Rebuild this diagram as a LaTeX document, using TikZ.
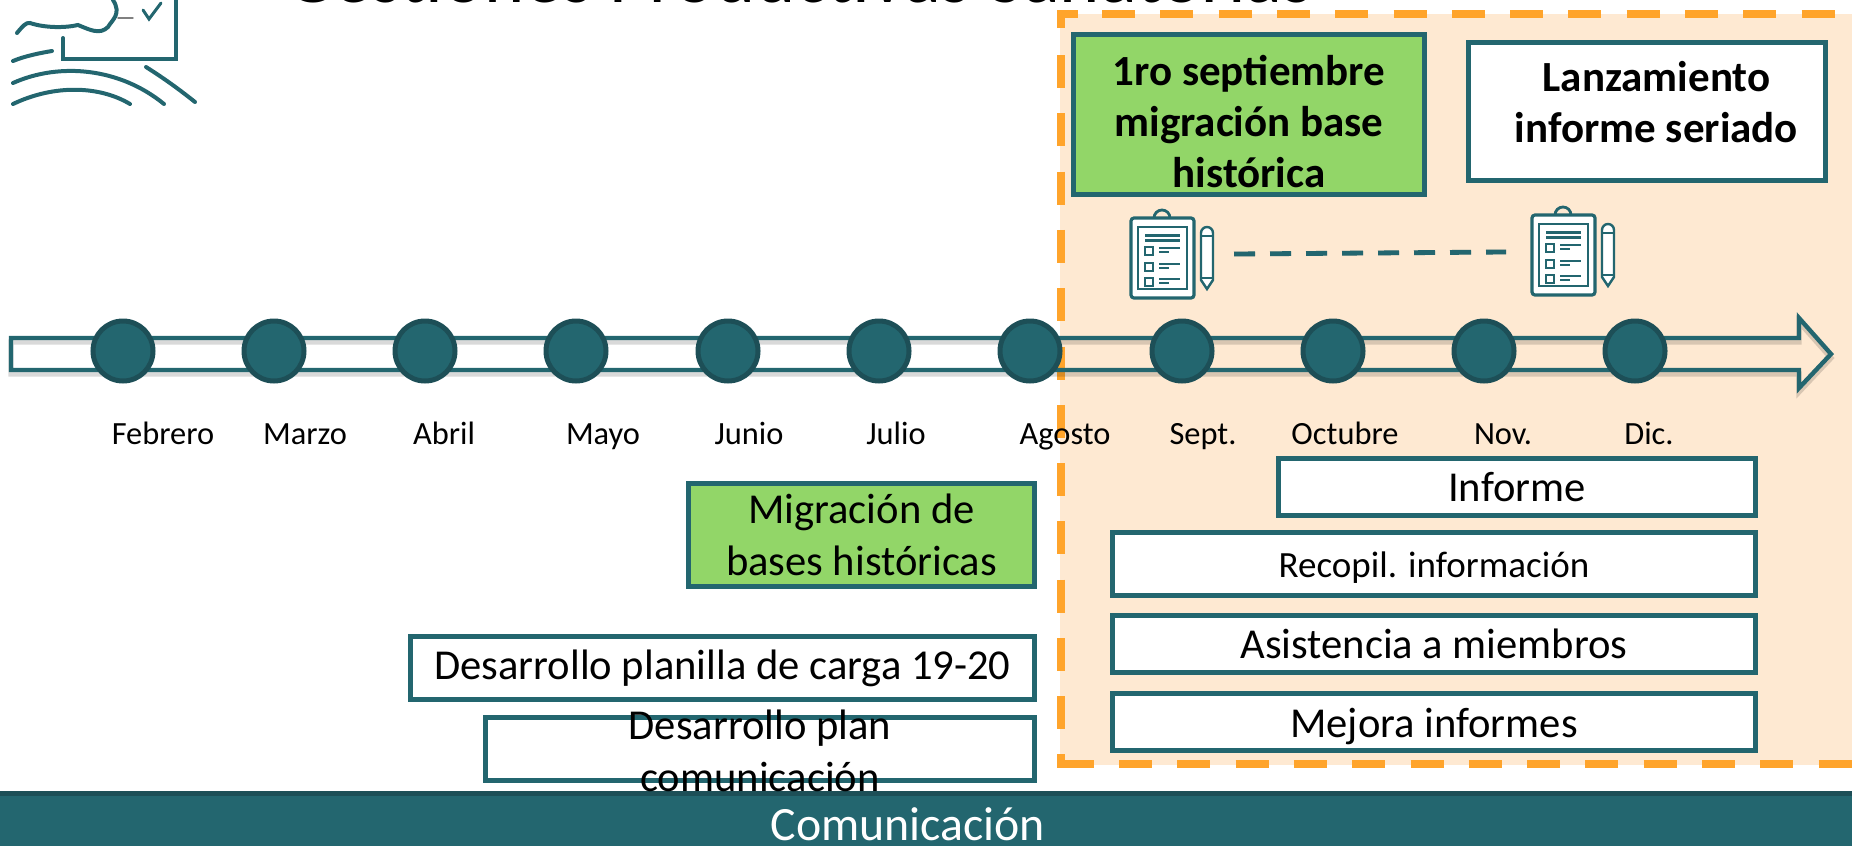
\documentclass[tikz,border=0pt]{standalone}
\usepackage{fontspec}
\setmainfont{Carlito}
\definecolor{teal1}{HTML}{23666F}
\definecolor{teal2}{HTML}{1D4F57}
\definecolor{peach}{HTML}{FEE9D2}
\definecolor{dashor}{HTML}{FFA42B}
\definecolor{greenb}{HTML}{92D668}
\tikzset{x=0.5pt,y=-0.5pt,
 stagebox/.style={draw=teal1,line width=2.4pt,fill=white,align=center,inner sep=0pt,text=black,anchor=north west},
 monthdot/.style={circle,draw=teal2,fill=teal1,line width=2.5pt,minimum size=30pt,inner sep=0pt},
 monthlabel/.style={font=\fontsize{16.2}{18}\selectfont,text=black,anchor=base,inner sep=0pt},
 boldtext/.style={font=\bfseries\fontsize{21.5}{25.5}\selectfont},
 plaintext/.style={font=\fontsize{21.3}{26}\selectfont},
 oranged/.style={dashor,line width=3.8pt},
 iconline/.style={draw=teal1,line width=1pt}}
\newcommand{\clipboardicon}[2]{%
 \begin{scope}[shift={(#1,#2)}]
  \draw[iconline,line width=1.4pt,fill=none] (23,0) arc[start angle=180,end angle=0,radius=4pt];
  \draw[iconline,line width=1.6pt,fill=white,rounded corners=1.5pt] (0,0) rectangle (63,80);
  \draw[iconline,line width=1.1pt,fill=white] (7,9) rectangle (56,71);
  \draw[iconline,line width=1.5pt] (14,17)--(49,17) (14,22)--(49,22);
  \foreach \y in {29,45,60}{\draw[iconline,line width=1pt] (14,\y) rectangle (22,\y+8);
    \draw[iconline,line width=1pt] (28,\y+1)--(49,\y+1) (28,\y+5)--(38,\y+5);}
  \draw[iconline,fill=white,line width=1.2pt] (70,15) -- (70,62) -- (76,71) -- (82,62) -- (82,15) arc[start angle=0,end angle=180,radius=3pt] -- cycle;
  \draw[iconline] (70,18)--(82,18) (70,60)--(82,60);
 \end{scope}}
\begin{document}
\begin{tikzpicture}
\useasboundingbox (0,0) rectangle (1852,846);
\clip (0,0) rectangle (1852,846);
% title
\node[anchor=base west,inner sep=0pt,font=\fontsize{38.3}{42}\selectfont,text=black] (title) at (285,3) {Gestiones Productivas Sanatorias};
% peach
\fill[peach] (1060,14) rectangle (1852,765);
\draw[oranged] (1061,28) -- (1061,14) -- (1078,14);
\draw[oranged,dash pattern=on 16.5pt off 12.65pt] (1102,14) -- (1852,14);
\draw[oranged,dash pattern=on 16.5pt off 12.65pt] (1061,55) -- (1061,730);
\draw[oranged] (1061,754) -- (1061,764) -- (1094,764);
\draw[oranged,dash pattern=on 16.5pt off 12.65pt] (1119,764) -- (1852,764);
% logo
\begin{scope}[line width=2pt,draw=teal1,line cap=round]
 \draw (17,33) .. controls (22,27) and (26,22) .. (30,23) .. controls (45,28) and (65,28) .. (78,25) .. controls (90,30) and (100,35) .. (108,27) .. controls (112,20) and (122,14) .. (113,0);
 \draw (63,38) -- (63,59) -- (176,59) -- (176,0);
 \draw (13,61) .. controls (25,56) and (40,53) .. (52,51);
 \draw (13,83) .. controls (60,62) and (120,68) .. (164,104);
 \draw (13,104) .. controls (55,84) and (100,86) .. (130,104);
 \draw (146,67) .. controls (165,79) and (180,90) .. (195,102);
 \draw[line width=1.5pt] (143,10) -- (149,19) -- (161,3);
 \draw[line width=.7pt,gray] (118,18)--(133,18);
\end{scope}
% arrow
\def\arrowpath{(11,338) -- (1799,338) -- (1799,318) -- (1831,354) -- (1799,388) -- (1799,370) -- (11,370) -- cycle}
\draw[black,opacity=.15,line width=2.6pt,yshift=-2pt] \arrowpath;
\draw[teal1,line width=2.2pt] \arrowpath;
% dots
\foreach \n/\x in {a/123,b/274,c/425,d/576,e/728,f/879,g/1030,h/1182,i/1333,j/1484,k/1635}{
 \node[monthdot] (dot\n) at (\x,351) {};}
% months
\foreach \n/\x/\t in {ma/163/Febrero,mb/305/Marzo,mc/444/Abril,md/603/Mayo,me/749/Junio,mf/896/Julio,mg/1065/Agosto,mh/1203/Sept.,mi/1345/Octubre,mj/1503/Nov.,mk/1649/Dic.}{
 \node[monthlabel] (\n) at (\x,444) {\t};}
% top boxes
\node[stagebox,fill=greenb,minimum width=175.6pt,minimum height=80pt,boldtext] (b1) at (1071,32) {\rule{0pt}{22pt}1ro septiembre\\migración base\\histórica};
\node[stagebox,minimum width=178.6pt,minimum height=69pt,boldtext] (b2) at (1466,40) {\hspace*{9.5pt}Lanzamiento\\\hspace*{9.5pt}informe seriado\\[-16.5pt]};
% lower boxes
\node[stagebox,minimum width=238.6pt,minimum height=28.6pt,plaintext] (b3) at (1276,456) {Informe};
\node[stagebox,minimum width=321.6pt,minimum height=31.6pt,font=\fontsize{18.5}{22}\selectfont] (b4) at (1110,530) {\rule{0pt}{16pt}Recopil. información};
\node[stagebox,minimum width=321.6pt,minimum height=28.6pt,plaintext] (b5) at (1110,613) {Asistencia a miembros};
\node[stagebox,minimum width=321.6pt,minimum height=28.6pt,plaintext] (b6) at (1110,691) {\rule{0pt}{19pt}Mejora informes};
\node[stagebox,fill=greenb,minimum width=173.1pt,minimum height=51.4pt,plaintext] (b7) at (686,481) {Migración de\\bases históricas};
\node[stagebox,minimum width=312.1pt,minimum height=31.6pt,plaintext] (b8) at (408,634) {Desarrollo planilla de carga 19-20};
\node[stagebox,minimum width=274.6pt,minimum height=31.6pt] (b9) at (483,715) {};
% bottom band
\fill[teal1] (0,791) rectangle (1852,846);
\draw[teal2,line width=2.5pt] (0,793) -- (1852,793);
\node[anchor=base,font=\fontsize{23.9}{28}\selectfont,text=white,inner sep=0pt] (com) at (908,840) {Comunicación};
\node[align=center,anchor=center,inner sep=0pt,plaintext,text=black] (b9t) at (760,751) {Desarrollo plan\\comunicación};
% icons
\clipboardicon{1131}{218}
\clipboardicon{1532}{215}
\coordinate (ia) at (1234,254);
\coordinate (ib) at (1506,252);
\draw[black,opacity=.12,line width=2.4pt,dash pattern=on 10.5pt off 7.5pt,yshift=-3pt] (ia) -- (ib);
\draw[teal1,line width=2.4pt,dash pattern=on 10.5pt off 7.5pt] (ia) -- (ib);
\end{tikzpicture}
\end{document}
